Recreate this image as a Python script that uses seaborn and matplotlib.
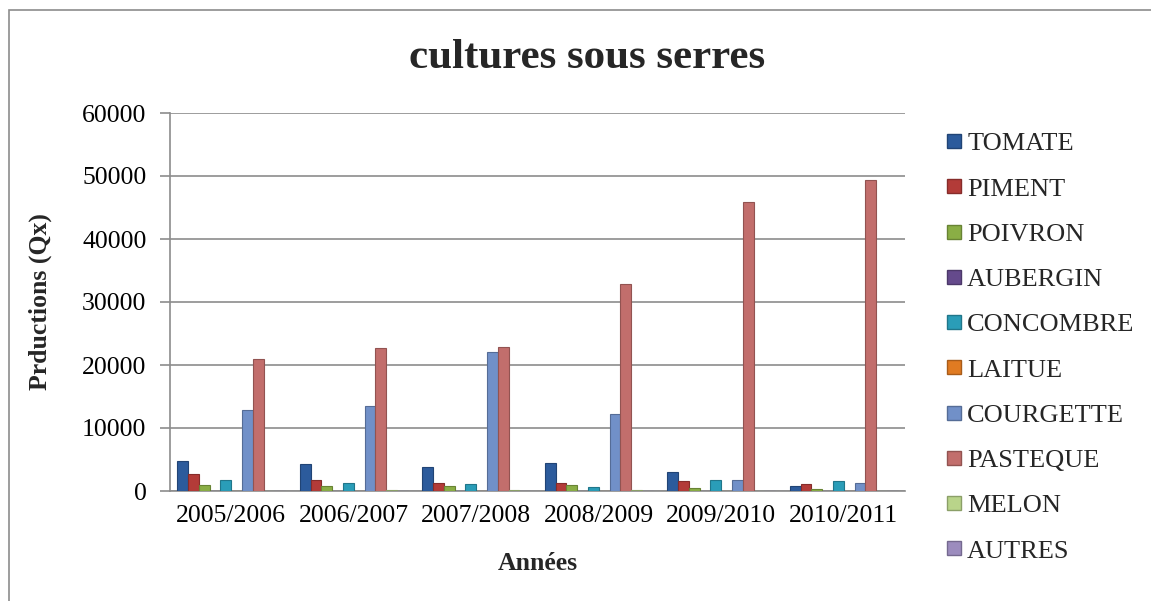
import numpy as np
import pandas as pd
import matplotlib
matplotlib.use("Agg")
import matplotlib.pyplot as plt
from matplotlib.lines import Line2D
from matplotlib.patches import Rectangle
import seaborn as sns

# Campaigns (x axis)
years = ["2005/2006", "2006/2007", "2007/2008", "2008/2009", "2009/2010", "2010/2011"]

# Production per crop (Qx)
tomate    = [4700, 4250, 3850, 4400, 2950, 750]
piment    = [2750, 1800, 1300, 1200, 1600, 1150]
poivron   = [950, 750, 800, 900, 450, 300]
aubergin  = [0, 0, 0, 0, 0, 0]
concombre = [1800, 1250, 1100, 700, 1800, 1600]
laitue    = [0, 0, 0, 0, 0, 0]
courgette = [12800, 13500, 22000, 12200, 1800, 1250]
pasteque  = [20900, 22700, 22900, 32800, 45900, 49400]
melon     = [0, 150, 100, 100, 50, 0]
autres    = [0, 0, 0, 0, 0, 0]

crops = ["TOMATE", "PIMENT", "POIVRON", "AUBERGIN", "CONCOMBRE", "LAITUE",
         "COURGETTE", "PASTEQUE", "MELON", "AUTRES"]
series = [tomate, piment, poivron, aubergin, concombre, laitue,
          courgette, pasteque, melon, autres]

colors = ["#2C5B9C", "#B33B38", "#8AAE45", "#654A8C", "#2A9DB8", "#E07B22",
          "#7190C8", "#C26E6C", "#B9D48A", "#9C8CBE"]

rows = []
for crop, vals in zip(crops, series):
    for yr, v in zip(years, vals):
        rows.append({"Années": yr, "Culture": crop, "Production": v})
df = pd.DataFrame(rows)

sns.set_theme(style="white")
plt.rcParams["font.family"] = ["Liberation Serif", "DejaVu Serif"]

fig = plt.figure(figsize=(11.51, 6.01), dpi=100)
ax = fig.add_axes([170 / 1151, 1 - 491 / 601, 735 / 1151, 378 / 601])

sns.barplot(data=df, x="Années", y="Production", hue="Culture",
            hue_order=crops, order=years, palette=colors,
            width=0.88, gap=0, saturation=1, ax=ax, legend=False,
            errorbar=None, zorder=3)

# slightly darker outline on every bar
for patch in ax.patches:
    fc = np.array(matplotlib.colors.to_rgb(patch.get_facecolor()))
    patch.set_edgecolor(tuple(fc * 0.75))
    patch.set_linewidth(0.8)

ax.set_ylim(0, 60000)
ax.set_xlim(-0.5, len(years) - 0.5)
ax.set_yticks(np.arange(0, 60001, 10000))
ax.yaxis.grid(True, color="#8C8C8C", linewidth=1.2, zorder=0)
ax.set_axisbelow(True)

for side in ["top", "right"]:
    ax.spines[side].set_visible(False)
for side in ["left", "bottom"]:
    ax.spines[side].set_color("#8C8C8C")
    ax.spines[side].set_linewidth(1.2)

ax.tick_params(axis="y", which="major", direction="out", length=7,
               width=1.2, color="#8C8C8C", labelsize=18.5, pad=10,
               left=True)
ax.tick_params(axis="x", length=0, labelsize=18.5, pad=10)
for lab in ax.get_xticklabels() + ax.get_yticklabels():
    lab.set_color("black")

ax.set_xlabel("")
ax.set_ylabel("")
fig.text(538 / 1151, 1 - 563 / 601, "Années", ha="center", va="center",
         fontsize=18.5, fontweight="bold")
fig.text(40 / 1151, 1 - 302 / 601, "Prductions (Qx)", ha="center",
         va="center", rotation=90, fontsize=18.5, fontweight="bold")

fig.text(587 / 1151, 1 - 58 / 601, "cultures sous serres", ha="center",
         va="center", fontsize=31, fontweight="bold")

# legend with square keys
handles = [Line2D([0], [0], marker="s", linestyle="none", markersize=10,
                  markerfacecolor=c,
                  markeredgecolor=tuple(np.array(matplotlib.colors.to_rgb(c)) * 0.75))
           for c in colors]
fig.legend(handles, crops, loc="upper left",
           bbox_to_anchor=(946 / 1151, 1 - 132 / 601),
           frameon=False, fontsize=19, handlelength=0.6,
           handletextpad=0.2, labelspacing=0.825, borderpad=0,
           borderaxespad=0)

# chart area border
fig.patches.append(Rectangle((9 / 1151, -0.2), 2.0, 1.2 - 10 / 601,
                             transform=fig.transFigure, fill=False,
                             edgecolor="#8C8C8C", linewidth=1.2))

fig.savefig("out.png", dpi=100, facecolor="white")
